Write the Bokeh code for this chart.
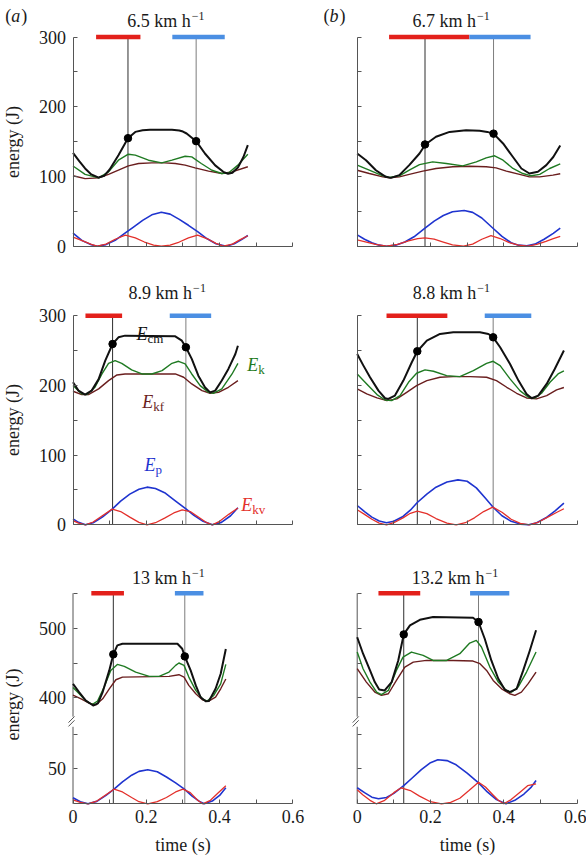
from bokeh.plotting import figure
from bokeh.layouts import column, row
from bokeh.models import Label, FixedTicker, Range1d
from bokeh.embed import file_html
from bokeh.resources import INLINE

# ------------------------------------------------------------------ data
SPEEDS = ["6.5", "6.7", "8.9", "8.8", "13", "13.2"]
TAGS = ["a", "b"]
XTICKS = [0, 0.1, 0.2, 0.3, 0.4, 0.5, 0.6]
YTICKS = [0, 50, 100, 150, 200, 250, 300]
LOW_TICKS = [50, 100]
HIGH_TICKS = [400, 450, 500, 550]

# 6.5 km/h  (a, top)
A1_CM_T = [0, 0.017, 0.033, 0.05, 0.07, 0.085, 0.1, 0.124, 0.15, 0.17, 0.19, 0.21, 0.27, 0.29, 0.3, 0.31, 0.336, 0.36, 0.388, 0.41, 0.423, 0.435, 0.45, 0.465, 0.477]
A1_CM = [134, 122, 111.5, 103, 98.5, 101, 110, 130.6, 155, 164, 166.3, 167, 167, 166, 164.5, 161.7, 150.7, 133, 116, 106.7, 104, 105.5, 113, 128, 145]
A1_K_T = [0, 0.033, 0.07, 0.097, 0.124, 0.151, 0.17, 0.206, 0.242, 0.27, 0.306, 0.324, 0.35, 0.379, 0.406, 0.425, 0.45, 0.477]
A1_K = [115, 103, 98, 106.7, 123.4, 132, 130.6, 123.4, 119.6, 123.4, 129, 128.2, 118.7, 109, 104.3, 105.3, 116.3, 132]
A1_KF_T = [0, 0.033, 0.07, 0.097, 0.124, 0.151, 0.179, 0.215, 0.25, 0.279, 0.306, 0.333, 0.37, 0.406, 0.434, 0.477]
A1_KF = [101, 97, 98, 103, 109, 115.3, 118.7, 119.6, 119.6, 118.7, 116.3, 112.4, 107.7, 104.3, 106.7, 114]
A1_P_T = [0, 0.025, 0.05, 0.066, 0.09, 0.115, 0.14, 0.165, 0.19, 0.215, 0.241, 0.265, 0.29, 0.315, 0.34, 0.365, 0.39, 0.418, 0.44, 0.46, 0.477]
A1_P = [18.7, 8, 2, 0, 2.3, 8.5, 18, 27.5, 37, 45, 48.8, 46, 38.5, 30, 21, 11, 3.5, 0, 3.5, 9.5, 15.4]
A1_KV_T = [0, 0.025, 0.05, 0.066, 0.09, 0.115, 0.143, 0.17, 0.195, 0.22, 0.241, 0.265, 0.29, 0.315, 0.34, 0.365, 0.39, 0.41, 0.435, 0.455, 0.477]
A1_KV = [13, 8, 2.5, 0, 3, 10, 15.8, 12, 6, 1.5, 0, 1.5, 6, 12, 15.8, 11, 4, 0, 3, 9, 15]
A1_DOT_T = [0.150, 0.336]
A1_DOT = [155, 150.7]
A1_RED = [0.063, 0.184]
A1_BLUE = [0.271, 0.414]

# 6.7 km/h  (b, top)
B1_CM_T = [0, 0.024, 0.051, 0.078, 0.092, 0.115, 0.142, 0.17, 0.186, 0.215, 0.252, 0.297, 0.334, 0.355, 0.372, 0.398, 0.425, 0.448, 0.47, 0.493, 0.516, 0.535, 0.554]
B1_CM = [133, 123.4, 109, 99.5, 98, 102, 116.3, 133, 146, 157, 164, 166.5, 165.6, 164, 161.5, 147.4, 128, 111.5, 104.3, 106.7, 116.3, 128, 144.5]
B1_K_T = [0, 0.033, 0.07, 0.088, 0.115, 0.142, 0.17, 0.206, 0.243, 0.288, 0.325, 0.352, 0.375, 0.398, 0.425, 0.452, 0.475, 0.498, 0.525, 0.554]
B1_K = [116.3, 109, 101, 98.6, 101, 109, 117, 121, 118.7, 115.3, 121, 126.8, 129.7, 123.4, 111.5, 104.3, 101, 103, 111.5, 118]
B1_KF_T = [0, 0.033, 0.07, 0.088, 0.115, 0.142, 0.179, 0.215, 0.261, 0.306, 0.352, 0.379, 0.407, 0.443, 0.47, 0.498, 0.534, 0.554]
B1_KF = [109, 104.3, 99.5, 98, 99.5, 103, 107.7, 111.5, 113.9, 114.8, 113.9, 112.4, 107.7, 103, 99.5, 99.5, 102, 104]
B1_P_T = [0, 0.02, 0.04, 0.06, 0.08, 0.105, 0.13, 0.155, 0.185, 0.21, 0.235, 0.26, 0.292, 0.315, 0.34, 0.372, 0.395, 0.42, 0.44, 0.463, 0.485, 0.51, 0.535, 0.554]
B1_P = [16.3, 10, 5, 1.5, 0, 1.5, 6, 13.5, 26, 36, 44, 49.5, 51.2, 48.5, 40.5, 25, 14, 5, 1.5, 0.5, 3, 10, 18.5, 26]
B1_KV_T = [0, 0.025, 0.05, 0.08, 0.11, 0.14, 0.165, 0.185, 0.21, 0.235, 0.26, 0.29, 0.315, 0.34, 0.365, 0.39, 0.415, 0.44, 0.465, 0.49, 0.515, 0.535, 0.554]
B1_KV = [9, 6, 2.5, 0, 2.5, 7.5, 11, 12, 10, 6, 2, 0, 3, 10, 15.3, 11, 5, 1.5, 0, 2.5, 7, 11, 14]
B1_DOT_T = [0.185, 0.372]
B1_DOT = [146, 161.5]
B1_RED = [0.087, 0.306]
B1_BLUE = [0.306, 0.473]

# 8.9 km/h  (a, middle)
A2_CM_T = [0, 0.015, 0.033, 0.051, 0.07, 0.088, 0.108, 0.124, 0.142, 0.279, 0.297, 0.308, 0.324, 0.342, 0.36, 0.374, 0.388, 0.406, 0.424, 0.443, 0.45]
A2_CM = [204.5, 192.5, 186.8, 192.5, 209, 235.5, 259.4, 269, 271.4, 270.4, 264.2, 254.7, 238, 214, 197.3, 190, 192.5, 207, 223.6, 245, 257]
A2_K_T = [0, 0.024, 0.038, 0.06, 0.079, 0.097, 0.115, 0.133, 0.16, 0.188, 0.215, 0.243, 0.27, 0.288, 0.306, 0.324, 0.347, 0.37, 0.383, 0.406, 0.434, 0.45]
A2_K = [199.7, 187.8, 186.8, 197.3, 216.4, 231.7, 235.5, 231.7, 222.2, 216.4, 216.4, 221.2, 231.7, 234.6, 230.8, 216.4, 199.7, 190, 188.7, 195, 216.4, 231.7]
A2_KF_T = [0, 0.024, 0.042, 0.07, 0.097, 0.12, 0.142, 0.279, 0.302, 0.324, 0.352, 0.374, 0.397, 0.424, 0.45]
A2_KF = [191.6, 186.8, 186.8, 195, 206.9, 215, 216.4, 216.4, 211.7, 202.1, 192.5, 188.7, 190, 197.3, 206.9]
A2_P_T = [0, 0.015, 0.034, 0.055, 0.08, 0.107, 0.13, 0.155, 0.18, 0.202, 0.225, 0.25, 0.28, 0.309, 0.33, 0.355, 0.38, 0.405, 0.43, 0.45]
A2_P = [8.6, 3.5, 0, 3, 11, 22.5, 34, 44, 51, 54, 52, 46, 34, 22.5, 13.5, 5, 0, 3.5, 13, 24.4]
A2_KV_T = [0, 0.015, 0.034, 0.055, 0.08, 0.107, 0.13, 0.155, 0.18, 0.202, 0.225, 0.25, 0.275, 0.298, 0.32, 0.345, 0.365, 0.38, 0.4, 0.425, 0.45]
A2_KV = [6, 2.5, 0, 4, 13, 22.5, 19, 11, 3.5, 0, 3, 9.5, 17, 21.5, 19, 10, 3, 0, 5, 15, 24]
A2_DOT_T = [0.108, 0.308]
A2_DOT = [259.4, 254.7]
A2_RED = [0.034, 0.134]
A2_BLUE = [0.264, 0.377]

# 8.8 km/h  (b, middle)
B2_CM_T = [0, 0.017, 0.035, 0.058, 0.076, 0.085, 0.103, 0.126, 0.149, 0.164, 0.19, 0.226, 0.262, 0.335, 0.358, 0.371, 0.39, 0.417, 0.44, 0.462, 0.476, 0.494, 0.517, 0.539, 0.564]
B2_CM = [245, 228.4, 211.7, 192.5, 181.6, 180.6, 185.4, 206.9, 233.2, 249, 264.2, 273.8, 276.2, 276.2, 273.8, 269, 254.7, 230.8, 206.9, 187.8, 181.6, 185.4, 202.1, 223.6, 250]
B2_K_T = [0, 0.026, 0.054, 0.076, 0.094, 0.117, 0.14, 0.162, 0.185, 0.208, 0.244, 0.28, 0.317, 0.353, 0.371, 0.39, 0.417, 0.444, 0.467, 0.485, 0.503, 0.526, 0.548, 0.564]
B2_K = [216.4, 202, 186.8, 179, 178.2, 185.4, 204.5, 217.4, 222.2, 220.3, 214, 212.6, 221.2, 231.7, 234.6, 228.4, 209.3, 192.5, 183, 182, 188.7, 204.5, 216.4, 221]
B2_KF_T = [0, 0.026, 0.054, 0.081, 0.108, 0.135, 0.162, 0.19, 0.226, 0.262, 0.308, 0.353, 0.38, 0.408, 0.435, 0.462, 0.489, 0.517, 0.544, 0.564]
B2_KF = [195, 187.8, 182, 178.2, 180.6, 190, 199.7, 206.9, 211.7, 212.6, 212.6, 211.7, 206.9, 197.3, 188.7, 182, 180.6, 185.4, 193.5, 197]
B2_P_T = [0, 0.02, 0.04, 0.06, 0.08, 0.1, 0.125, 0.145, 0.164, 0.19, 0.215, 0.245, 0.275, 0.3, 0.325, 0.35, 0.372, 0.395, 0.42, 0.445, 0.468, 0.49, 0.515, 0.54, 0.564]
B2_P = [27.7, 19, 11, 5.5, 3, 5, 12, 21, 32, 44, 54, 61.5, 64.5, 62.5, 53, 38, 24.5, 13, 5, 1, 0, 3, 10, 20, 31]
B2_KV_T = [0, 0.02, 0.04, 0.06, 0.08, 0.1, 0.125, 0.145, 0.164, 0.19, 0.215, 0.245, 0.27, 0.295, 0.32, 0.345, 0.37, 0.395, 0.42, 0.445, 0.47, 0.495, 0.52, 0.545, 0.564]
B2_KV = [21.5, 15, 8, 2.5, 0, 3, 10, 16.5, 19.6, 16, 9, 2.5, 0, 3, 10, 19, 25.3, 18, 8, 2, 0, 4, 11, 18, 23]
B2_DOT_T = [0.164, 0.371]
B2_DOT = [249, 269]
B2_RED = [0.08, 0.246]
B2_BLUE = [0.348, 0.475]

# 13 km/h  (a, bottom)
A3_CM_T = [0, 0.017, 0.035, 0.055, 0.068, 0.081, 0.099, 0.11, 0.121, 0.135, 0.285, 0.298, 0.305, 0.321, 0.335, 0.348, 0.362, 0.371, 0.389, 0.403, 0.417]
A3_CM = [420, 408, 396, 389, 392, 408.3, 439.4, 462.4, 475.3, 477.7, 477.7, 470.5, 459.5, 439.4, 417.9, 401, 395, 395.4, 413, 434.6, 470]
A3_K_T = [0, 0.017, 0.035, 0.052, 0.067, 0.085, 0.103, 0.121, 0.14, 0.171, 0.208, 0.235, 0.262, 0.28, 0.289, 0.303, 0.316, 0.335, 0.353, 0.366, 0.384, 0.403, 0.417]
A3_K = [415, 406, 396, 390.5, 395.4, 415.5, 439.4, 448, 445.1, 437, 430.8, 430.8, 437, 446.6, 450, 446.6, 429.8, 410.7, 398.7, 395.4, 403.5, 420, 448]
A3_KF_T = [0, 0.022, 0.044, 0.063, 0.081, 0.099, 0.117, 0.135, 0.262, 0.289, 0.303, 0.316, 0.335, 0.353, 0.369, 0.389, 0.403, 0.417]
A3_KF = [404, 398.7, 392.5, 390, 398.7, 413, 426, 429.8, 430.8, 433.2, 429.8, 417.9, 405.9, 397.3, 395, 401, 413, 427]
A3_P_T = [0, 0.02, 0.041, 0.065, 0.09, 0.112, 0.135, 0.16, 0.18, 0.204, 0.23, 0.255, 0.28, 0.304, 0.325, 0.345, 0.358, 0.38, 0.4, 0.417]
A3_P = [8.6, 3, 0, 3.5, 12, 21, 31.5, 41, 46.5, 48.8, 46, 38.5, 30, 21, 11, 3.5, 0, 4, 12, 23]
A3_KV_T = [0, 0.02, 0.041, 0.065, 0.09, 0.112, 0.135, 0.16, 0.18, 0.204, 0.23, 0.255, 0.28, 0.3, 0.32, 0.34, 0.354, 0.375, 0.395, 0.417]
A3_KV = [5.7, 2, 0, 4, 13, 21, 17, 9, 3, 0, 3, 9, 17, 21, 16, 5, 0, 5, 15, 25.8]
A3_DOT_T = [0.11, 0.305]
A3_DOT = [462.4, 459.5]
A3_RED = [0.05, 0.139]
A3_BLUE = [0.278, 0.356]

# 13.2 km/h  (b, bottom)
B3_CM_T = [0, 0.016, 0.035, 0.048, 0.06, 0.075, 0.094, 0.112, 0.127, 0.144, 0.171, 0.207, 0.316, 0.331, 0.348, 0.366, 0.385, 0.403, 0.416, 0.435, 0.453, 0.471, 0.488]
B3_CM = [487, 463.3, 439.4, 422.6, 412, 410.7, 422.6, 453.7, 491, 504, 512, 516, 515, 508.8, 484.8, 453.7, 427.4, 411.6, 408.3, 413, 439.4, 468, 497]
B3_K_T = [0, 0.016, 0.035, 0.053, 0.066, 0.085, 0.107, 0.125, 0.148, 0.18, 0.207, 0.244, 0.28, 0.307, 0.325, 0.339, 0.362, 0.385, 0.407, 0.421, 0.439, 0.462, 0.488]
B3_K = [465.7, 441.8, 422.6, 408.3, 404.5, 410.7, 439.4, 458.5, 465.7, 460.9, 453.7, 453.7, 463.3, 478.6, 482.4, 472.9, 444.2, 422.6, 410.7, 408.3, 415.5, 437, 465.7]
B3_KF_T = [0, 0.025, 0.048, 0.066, 0.085, 0.107, 0.13, 0.153, 0.189, 0.262, 0.316, 0.335, 0.353, 0.371, 0.394, 0.416, 0.43, 0.448, 0.466, 0.488]
B3_KF = [441.8, 422.6, 408.3, 403.5, 405.9, 425, 444.2, 451.3, 453.7, 453.7, 452.8, 449, 439.4, 425, 413, 405.9, 403.5, 408.3, 420, 437]
B3_P_T = [0, 0.02, 0.04, 0.058, 0.08, 0.1, 0.127, 0.15, 0.175, 0.2, 0.22, 0.245, 0.27, 0.3, 0.331, 0.355, 0.38, 0.406, 0.43, 0.455, 0.475, 0.488]
B3_P = [23, 16, 9.5, 7.2, 9, 15, 26, 37, 49, 59, 63.2, 62, 56, 44, 30, 17, 6, 0, 5, 14, 24, 33.5]
B3_KV_T = [0, 0.015, 0.035, 0.052, 0.075, 0.1, 0.12, 0.145, 0.17, 0.2, 0.23, 0.255, 0.28, 0.305, 0.331, 0.35, 0.37, 0.385, 0.4, 0.42, 0.445, 0.465, 0.488]
B3_KV = [20, 13, 5, 0, 5, 16, 23, 19, 11, 3, 0, 2, 8, 19, 31, 24, 13, 5, 0, 6, 17, 26, 28.7]
B3_DOT_T = [0.127, 0.331]
B3_DOT = [491, 508.8]
B3_RED = [0.058, 0.172]
B3_BLUE = [0.308, 0.415]

BAR_LEVEL = [300, 300, 550]          # energy level of the stance bars per row

# ------------------------------------------------------------------ styling / layout
FONT = "Liberation Serif"
PXY = 0.697                 # pixels per joule
PXX = 366.5                 # pixels per second
ZERO_X = [72.5, 356.7]      # page x of t = 0 for each column
COL_LEFT = [0, 323]
COL_W = [323, 263]
ZERO_Y = [245.7, 524.3, 803.3]   # page y of E = 0 for each row
ROW_TOP = [0, 270, 550]
ROW_H = [270, 280, 308]
BREAK_OFFSET = 248          # broken axis: upper segment shifted down by this
LOW_TOP, HIGH_BOTTOM = 110.5, 373
AXIS_COLOR = "#555555"
TEXT_COLOR = "#1a1a1a"
COL = dict(cm="#111111", k="#1f7a22", kf="#6a1e1e", p="#1f34cf", kv="#e3302b")
WID = dict(cm=2.0, k=1.4, kf=1.4, p=1.6, kv=1.3)
RED_BAR, BLUE_BAR = "#e3201b", "#4b8fe3"
VLINE_COL = ["#2e2e2e", "#7d7d7d"]
TITLE_X = [0.321, 0.324, 0.325, 0.325, 0.322, 0.347]
TITLE_Y = [322.4, 322.4, 332.3, 332.3, 323.7 + BREAK_OFFSET, 323.7 + BREAK_OFFSET]
TAG_X = [-0.185, -0.092]
TAG_Y = 329.6

PANELS = [
    dict(cm=(A1_CM_T, A1_CM), k=(A1_K_T, A1_K), kf=(A1_KF_T, A1_KF), p=(A1_P_T, A1_P), kv=(A1_KV_T, A1_KV),
         dots=(A1_DOT_T, A1_DOT), red=A1_RED, blue=A1_BLUE),
    dict(cm=(B1_CM_T, B1_CM), k=(B1_K_T, B1_K), kf=(B1_KF_T, B1_KF), p=(B1_P_T, B1_P), kv=(B1_KV_T, B1_KV),
         dots=(B1_DOT_T, B1_DOT), red=B1_RED, blue=B1_BLUE),
    dict(cm=(A2_CM_T, A2_CM), k=(A2_K_T, A2_K), kf=(A2_KF_T, A2_KF), p=(A2_P_T, A2_P), kv=(A2_KV_T, A2_KV),
         dots=(A2_DOT_T, A2_DOT), red=A2_RED, blue=A2_BLUE),
    dict(cm=(B2_CM_T, B2_CM), k=(B2_K_T, B2_K), kf=(B2_KF_T, B2_KF), p=(B2_P_T, B2_P), kv=(B2_KV_T, B2_KV),
         dots=(B2_DOT_T, B2_DOT), red=B2_RED, blue=B2_BLUE),
    dict(cm=(A3_CM_T, A3_CM), k=(A3_K_T, A3_K), kf=(A3_KF_T, A3_KF), p=(A3_P_T, A3_P), kv=(A3_KV_T, A3_KV),
         dots=(A3_DOT_T, A3_DOT), red=A3_RED, blue=A3_BLUE),
    dict(cm=(B3_CM_T, B3_CM), k=(B3_K_T, B3_K), kf=(B3_KF_T, B3_KF), p=(B3_P_T, B3_P), kv=(B3_KV_T, B3_KV),
         dots=(B3_DOT_T, B3_DOT), red=B3_RED, blue=B3_BLUE),
]


def label(p, x, y, text, size="18px", style="normal", color=TEXT_COLOR, align="left",
          baseline="middle", x_offset=0):
    p.add_layout(Label(x=x, y=y, text=text, text_font=FONT, text_font_size=size,
                       text_font_style=style, text_color=color, text_align=align,
                       text_baseline=baseline, x_offset=x_offset))


def make(idx):
    r, c = divmod(idx, 2)
    d = PANELS[idx]
    broken = (r == 2)
    off = BREAK_OFFSET if broken else 0
    x0 = (COL_LEFT[c] - ZERO_X[c]) / PXX
    x1 = (COL_LEFT[c] + COL_W[c] - ZERO_X[c]) / PXX
    y0 = (ZERO_Y[r] - (ROW_TOP[r] + ROW_H[r])) / PXY
    y1 = (ZERO_Y[r] - ROW_TOP[r]) / PXY
    p = figure(width=COL_W[c], height=ROW_H[r],
               x_range=Range1d(x0, x1), y_range=Range1d(y0, y1),
               output_backend="svg", toolbar_location=None, title=None,
               min_border=0, min_border_left=0, min_border_right=0,
               min_border_top=0, min_border_bottom=0,
               outline_line_color=None, background_fill_color="white",
               border_fill_color="white")
    p.grid.visible = False

    # x axis (drawn at the time origin)
    xa = p.xaxis[0]
    xa.fixed_location = 0
    xa.ticker = FixedTicker(ticks=XTICKS)
    xa.bounds = (0, 0.6)
    xa.axis_line_color = AXIS_COLOR
    xa.major_tick_line_color = AXIS_COLOR
    xa.major_tick_in, xa.major_tick_out = 4, 0
    xa.minor_tick_line_color = None
    xa.major_label_text_font = FONT
    xa.major_label_text_color = TEXT_COLOR
    if broken:
        xa.major_label_overrides = {0.1: "", 0.3: "", 0.5: ""}
        xa.major_label_text_font_size = "18px"
        xa.major_label_standoff = 6
        xa.axis_label = "time (s)"
        xa.axis_label_text_font = FONT
        xa.axis_label_text_font_size = "18px"
        xa.axis_label_text_font_style = "normal"
        xa.axis_label_text_color = TEXT_COLOR
        xa.axis_label_standoff = 9
    else:
        xa.major_label_overrides = {t: "" for t in XTICKS}
        xa.major_label_text_font_size = "1px"
        xa.major_label_standoff = 0

    # y axis
    ya = p.yaxis[0]
    ya.fixed_location = 0
    ya.major_tick_line_color = AXIS_COLOR
    ya.major_tick_in, ya.major_tick_out = 4, 0
    ya.minor_tick_line_color = None
    ya.major_label_text_font = FONT
    ya.major_label_text_color = TEXT_COLOR
    ya.major_label_standoff = 7
    if broken:
        ticks = LOW_TICKS + [v - off for v in HIGH_TICKS]
        ya.ticker = FixedTicker(ticks=ticks)
        ya.axis_line_color = None
        shown = {50: "50", 400 - off: "400", 500 - off: "500"}
        ya.major_label_overrides = {t: (shown.get(t, "") if c == 0 else "") for t in ticks}
        # two axis pieces and the "//" break marks
        p.segment(x0=[0, 0, -0.0123, -0.0123], y0=[0, HIGH_BOTTOM - off, LOW_TOP + 6, LOW_TOP + 0.5],
                  x1=[0, 0, 0.0041, 0.0041], y1=[LOW_TOP, 550 - off, LOW_TOP + 14.8, LOW_TOP + 9.3],
                  line_color=AXIS_COLOR, line_width=1)
    else:
        ya.ticker = FixedTicker(ticks=YTICKS)
        ya.bounds = (0, 300)
        ya.axis_line_color = AXIS_COLOR
        if c == 0:
            ya.major_label_overrides = {50: "", 150: "", 250: ""}
        else:
            ya.major_label_overrides = {t: "" for t in YTICKS}
    if c == 0:
        ya.major_label_text_font_size = "18px"
        ya.axis_label = "energy (J)"
        ya.axis_label_text_font = FONT
        ya.axis_label_text_font_size = "18px"
        ya.axis_label_text_font_style = "normal"
        ya.axis_label_text_color = TEXT_COLOR
        ya.axis_label_standoff = 14
    else:
        ya.major_label_text_font_size = "1px"
        ya.major_label_standoff = 0

    bar_y = BAR_LEVEL[r] - off
    # vertical event lines
    for i, t in enumerate(d["dots"][0]):
        p.segment(x0=[t], y0=[0], x1=[t], y1=[bar_y], line_color=VLINE_COL[i], line_width=1)
    # stance bars
    p.segment(x0=[d["red"][0]], y0=[bar_y], x1=[d["red"][1]], y1=[bar_y],
              line_color=RED_BAR, line_width=4.5, line_cap="butt")
    p.segment(x0=[d["blue"][0]], y0=[bar_y], x1=[d["blue"][1]], y1=[bar_y],
              line_color=BLUE_BAR, line_width=4.5, line_cap="butt")

    # curves
    for key in ["kf", "k", "p", "kv", "cm"]:
        ts, es = d[key]
        shift = off if key in ("cm", "k", "kf") else 0
        p.line(ts, [e - shift for e in es], line_color=COL[key], line_width=WID[key],
               line_join="round")
    dt, de = d["dots"]
    p.scatter(dt, [e - off for e in de], size=7.5, color="black")

    # speed title with superscript
    label(p, TITLE_X[idx], TITLE_Y[idx] - off, SPEEDS[idx] + " km h", align="right")
    label(p, TITLE_X[idx], TITLE_Y[idx] - off + 8, "\u22121", size="12px", align="left", x_offset=1)

    if r == 0:   # panel tag "(a)" / "(b)" with upright parentheses
        label(p, TAG_X[c], TAG_Y, "(")
        label(p, TAG_X[c], TAG_Y, TAGS[c], style="italic", x_offset=6)
        label(p, TAG_X[c], TAG_Y, ")", x_offset=16)

    if idx == 2:
        names = [("cm", 0.1734, 274, COL["cm"]), ("k", 0.4756, 229.4, COL["k"]),
                 ("kf", 0.189, 175.7, COL["kf"]), ("p", 0.195, 86, COL["p"]),
                 ("kv", 0.459, 27.7, COL["kv"])]
        for sub, x, y, colr in names:
            label(p, x, y, "E", style="italic", color=colr, baseline="alphabetic")
            label(p, x, y - 6, sub, size="13px", color=colr, baseline="alphabetic", x_offset=11)
    return p


figs = [make(i) for i in range(6)]
layout = column(row(figs[0], figs[1], spacing=0), row(figs[2], figs[3], spacing=0),
                row(figs[4], figs[5], spacing=0), spacing=0)

with open("out.html", "w") as f:
    f.write(file_html(layout, INLINE, title="energy"))
